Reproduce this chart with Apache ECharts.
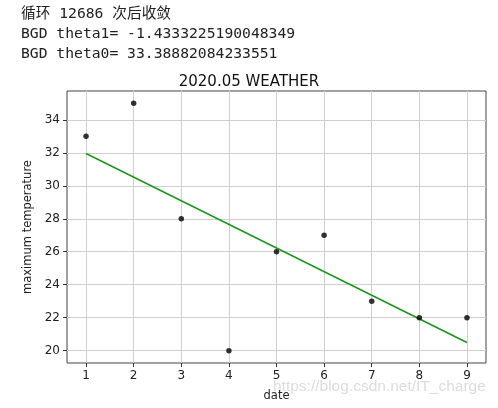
<!DOCTYPE html>
<html>
<head>
<meta charset="utf-8">
<script src="https://cdn.jsdelivr.net/npm/echarts@6/dist/echarts.min.js"></script>
<style>
html,body{margin:0;padding:0;background:#fff;}
#c{width:498px;height:408px;}
</style>
</head>
<body>
<div id="c"></div>
<script>
var headerLines = ['循环 12686 次后收敛', 'BGD theta1= -1.4333225190048349', 'BGD theta0= 33.38882084233551'];
var chartTitle = '2020.05 WEATHER';
var xName = 'date';
var yName = 'maximum temperature';
var dates = [1, 2, 3, 4, 5, 6, 7, 8, 9];
var temps = [33, 35, 28, 20, 26, 27, 23, 22, 22];
var fitX = [1, 9];
var fitY = [31.96, 20.49];
var xTicks = [1, 2, 3, 4, 5, 6, 7, 8, 9];
var yTicks = [20, 22, 24, 26, 28, 30, 32, 34];
var watermark = 'https://blog.csdn.net/IT_charge';

var chart = echarts.init(document.getElementById('c'));
var mono = '"DejaVu Sans Mono", "Noto Sans CJK SC", monospace';
var sans = '"DejaVu Sans", sans-serif';
var axisCol = '#333';
var gridCol = '#cfcfcf';

chart.setOption({
  animation: false,
  backgroundColor: '#fff',
  graphic: headerLines.map(function (t, i) {
    return {
      type: 'text', left: 21, top: 7 + i * 20,
      style: { text: t, font: '14.7px ' + mono, fill: '#222' }
    };
  }).concat([{
    type: 'text', left: 273, top: 379,
    style: { text: watermark, font: '15.5px "Liberation Sans", Arial, sans-serif', fill: '#dcdcdc' },
    z: 0
  }]),
  title: {
    text: chartTitle, left: 'center', top: 70,
    textStyle: { fontFamily: sans, fontSize: 15, fontWeight: 'normal', color: '#111' }
  },
  grid: {
    left: 67, right: 12, top: 91, bottom: 45,
    outerBoundsMode: 'none', containLabel: false,
    show: true, borderColor: '#444', borderWidth: 1, backgroundColor: 'transparent'
  },
  xAxis: {
    type: 'value', min: 0.6, max: 9.4,
    name: xName, nameLocation: 'middle', nameGap: 27,
    nameTextStyle: { fontFamily: sans, fontSize: 11.5, color: '#222' },
    axisLine: { show: false },
    axisTick: { show: true, length: 4, lineStyle: { color: axisCol }, customValues: xTicks },
    axisLabel: { customValues: xTicks, fontFamily: sans, fontSize: 12, color: '#222', margin: 7 },
    splitLine: { show: true, lineStyle: { color: gridCol, width: 1 } }
  },
  yAxis: {
    type: 'value', min: 19.25, max: 35.75,
    name: yName, nameLocation: 'middle', nameGap: 31, nameRotate: 90,
    nameTextStyle: { fontFamily: sans, fontSize: 11.5, color: '#222' },
    axisLine: { show: false },
    axisTick: { show: true, length: 4, lineStyle: { color: axisCol }, customValues: yTicks },
    axisLabel: { customValues: yTicks, fontFamily: sans, fontSize: 12, color: '#222', margin: 7 },
    splitLine: { show: true, lineStyle: { color: gridCol, width: 1 } }
  },
  series: [{
    type: 'line',
    data: fitX.map(function (x, i) { return [x, fitY[i]]; }),
    showSymbol: false, symbol: 'none',
    lineStyle: { color: '#1c961c', width: 1.6 },
    z: 2
  }, {
    type: 'scatter',
    data: dates.map(function (d, i) { return [d, temps[i]]; }),
    symbolSize: 5.5,
    itemStyle: { color: '#000' },
    z: 3
  }]
});
</script>
</body>
</html>
